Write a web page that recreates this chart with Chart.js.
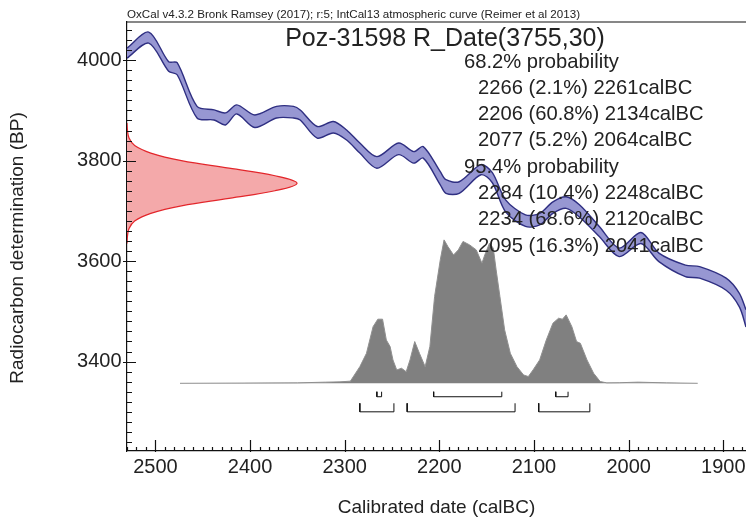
<!DOCTYPE html>
<html lang="en">
<head>
    <meta charset="UTF-8">
    <style>
        body {
            margin: 0;
            background: #ffffff;
        }
        #grafico {
            display: block;
        }
    </style>
    <script src="https://cdn.jsdelivr.net/npm/chart.js"></script>
    <title>Poz-31598 R_Date(3755,30)</title>
</head>
<body>
    <canvas id="grafico" width="746" height="520"></canvas>

    <script>
        // calibration curve (IntCal13): cal BC, upper / lower edge in BP
        const calYears = [2530, 2507, 2486, 2477, 2456, 2438, 2426, 2414, 2395, 2372, 2354, 2347, 2329, 2312,
            2298, 2284, 2266, 2243, 2227, 2217, 2199, 2193, 2179, 2156, 2144, 2130, 2109, 2094, 2080, 2066,
            2052, 2031, 2010, 1987, 1968, 1940, 1925, 1897, 1883, 1876];
        const curveHigh = [4024, 4056, 3997, 3995, 3908, 3901, 3895, 3911, 3891, 3908, 3908, 3901, 3868, 3878,
            3861, 3835, 3808, 3835, 3818, 3828, 3778, 3762, 3758, 3792, 3776, 3722, 3692, 3695, 3718, 3728,
            3712, 3669, 3626, 3657, 3616, 3592, 3589, 3566, 3536, 3503];
        const curveLow = [4004, 4034, 3978, 3971, 3885, 3881, 3871, 3893, 3866, 3885, 3885, 3881, 3845, 3855,
            3841, 3815, 3785, 3812, 3795, 3805, 3752, 3735, 3735, 3772, 3756, 3698, 3669, 3672, 3695, 3705,
            3688, 3649, 3609, 3635, 3599, 3569, 3566, 3542, 3509, 3469];

        // radiocarbon measurement on the y axis (relative density)
        const bpValues = [3635, 3650, 3665, 3680, 3695, 3710, 3725, 3740, 3755, 3770, 3785, 3800, 3815, 3830, 3845, 3860, 3875];
        const bpDensity = [0, 0.003, 0.012, 0.045, 0.14, 0.32, 0.6, 0.87, 1.0, 0.87, 0.6, 0.32, 0.14, 0.045, 0.012, 0.003, 0];

        // calibrated distribution (relative probability)
        const probYears = [2474, 2350, 2320, 2305, 2294, 2284, 2277, 2270, 2265, 2260, 2256, 2252, 2249, 2245, 2240,
            2235, 2231, 2226, 2221, 2215, 2210, 2205, 2199, 2195, 2191, 2185, 2180, 2175, 2168, 2161,
            2155, 2152, 2147, 2143, 2140, 2136, 2131, 2125, 2118, 2111, 2106, 2101, 2094, 2087, 2080,
            2074, 2070, 2066, 2060, 2055, 2051, 2044, 2037, 2030, 2023, 2010, 1990, 1960, 1927];
        const probValues = [0, 0.003, 0.008, 0.01, 0.015, 0.116, 0.209, 0.395, 0.447, 0.447, 0.302, 0.256, 0.163, 0.093, 0.105,
            0.081, 0.163, 0.291, 0.209, 0.116, 0.256, 0.605, 0.861, 1.0, 0.954, 0.895, 0.93, 0.989, 0.965, 0.93,
            0.837, 0.895, 0.977, 0.942, 0.791, 0.605, 0.372, 0.209, 0.116, 0.058, 0.047, 0.093, 0.163, 0.302, 0.419,
            0.454, 0.447, 0.477, 0.395, 0.291, 0.279, 0.163, 0.07, 0.012, 0.003, 0.004, 0.008, 0.003, 0];

        // probability ranges
        const range68 = [[2266, 2261], [2206, 2134], [2077, 2064]];
        const pct68 = ["2.1", "60.8", "5.2"];
        const range95 = [[2284, 2248], [2234, 2120], [2095, 2041]];
        const pct95 = ["10.4", "68.6", "16.3"];

        const xTicks = [2500, 2400, 2300, 2200, 2100, 2000, 1900];
        const yTicks = [3400, 3600, 3800, 4000];

        const headerText = "OxCal v4.3.2 Bronk Ramsey (2017); r:5; IntCal13 atmospheric curve (Reimer et al 2013)";
        const titleText = "Poz-31598 R_Date(3755,30)";
        const xTitle = "Calibrated date (calBC)";
        const yTitle = "Radiocarbon determination (BP)";

        const FONT = "'Liberation Sans', Arial, sans-serif";

        function colchetes(ranges, base, top) {
            const pts = [];
            for (const [a, b] of ranges) {
                pts.push({x: a, y: top}, {x: a, y: base}, {x: b, y: base}, {x: b, y: top}, {x: b, y: null});
            }
            return pts;
        }

        const overlay = {
            id: 'overlay',
            afterDraw(chart) {
                const {ctx, chartArea: a, scales: {x, y}} = chart;
                ctx.save();
                ctx.strokeStyle = '#111';
                ctx.lineWidth = 1.2;
                ctx.beginPath();
                ctx.moveTo(a.left, a.top);
                ctx.lineTo(a.right, a.top);
                // y ticks
                for (let v = 3240; v <= 4060; v += 20) {
                    const py = Math.round(y.getPixelForValue(v)) + 0.5;
                    const major = v % 200 === 0;
                    ctx.moveTo(a.left - (major ? 4 : 0), py);
                    ctx.lineTo(a.left + (major ? 9 : 5), py);
                }
                // x ticks
                for (let v = 1880; v <= 2530; v += 10) {
                    const px = Math.round(x.getPixelForValue(v)) + 0.5;
                    const major = v % 100 === 0;
                    ctx.moveTo(px, a.bottom + (major ? 1 : 0));
                    ctx.lineTo(px, a.bottom - (major ? 11 : 4));
                }
                ctx.stroke();

                ctx.fillStyle = '#222';
                ctx.textBaseline = 'alphabetic';
                ctx.textAlign = 'left';
                ctx.font = '11.6px ' + FONT;
                ctx.fillText(headerText, a.left, 18);

                ctx.textAlign = 'center';
                ctx.font = '25px ' + FONT;
                ctx.fillText(titleText, 445, 46);

                ctx.textAlign = 'left';
                ctx.font = '20.2px ' + FONT;
                let linha = 67.5;
                const passo = 26.3;
                ctx.fillText("68.2% probability", 464, linha);
                range68.forEach((r, i) => {
                    linha += passo;
                    ctx.fillText(`${r[0]} (${pct68[i]}%) ${r[1]}calBC`, 478, linha);
                });
                linha += passo;
                ctx.fillText("95.4% probability", 464, linha);
                range95.forEach((r, i) => {
                    linha += passo;
                    ctx.fillText(`${r[0]} (${pct95[i]}%) ${r[1]}calBC`, 478, linha);
                });

                ctx.font = '19px ' + FONT;
                ctx.textAlign = 'center';
                ctx.textBaseline = 'middle';
                ctx.fillText(xTitle, (a.left + a.right) / 2, 508);
                ctx.translate(18, 248);
                ctx.rotate(-Math.PI / 2);
                ctx.fillText(yTitle, 0, 0);
                ctx.restore();
            }
        };

        new Chart(document.getElementById("grafico"), {
            type: "line",
            data: {
                datasets: [
                    {
                        label: "curveHigh",
                        data: calYears.map((c, i) => ({x: c, y: curveHigh[i]})),
                        borderColor: "#2f2f82",
                        borderWidth: 1.4,
                        tension: 0.3,
                        pointRadius: 0,
                        fill: false
                    },
                    {
                        label: "curveLow",
                        data: calYears.map((c, i) => ({x: c, y: curveLow[i]})),
                        borderColor: "#2f2f82",
                        borderWidth: 1.4,
                        backgroundColor: "#9797d2",
                        tension: 0.3,
                        pointRadius: 0,
                        fill: "-1"
                    },
                    {
                        label: "R_Date",
                        indexAxis: "y",
                        xAxisID: "xDens",
                        data: bpValues.map((b, i) => ({x: bpDensity[i], y: b})),
                        borderColor: "#e3262b",
                        borderWidth: 1.2,
                        backgroundColor: "#f4a9aa",
                        tension: 0.4,
                        pointRadius: 0,
                        fill: {value: 0}
                    },
                    {
                        label: "calibrated",
                        yAxisID: "yProb",
                        data: probYears.map((c, i) => ({x: c, y: probValues[i]})),
                        borderColor: "#8f8f8f",
                        borderWidth: 1,
                        backgroundColor: "#808080",
                        tension: 0,
                        pointRadius: 0,
                        fill: "origin"
                    },
                    {
                        label: "68.2%",
                        data: colchetes(range68, 3330, 3340),
                        borderColor: "#111",
                        borderWidth: 1,
                        tension: 0,
                        pointRadius: 0,
                        spanGaps: false,
                        fill: false
                    },
                    {
                        label: "95.4%",
                        data: colchetes(range95, 3300, 3317),
                        borderColor: "#111",
                        borderWidth: 1,
                        tension: 0,
                        pointRadius: 0,
                        spanGaps: false,
                        fill: false
                    }
                ]
            },
            options: {
                responsive: false,
                animation: false,
                layout: {padding: {top: 22, left: 0, right: 0, bottom: 0}},
                plugins: {
                    legend: {display: false},
                    tooltip: {enabled: false},
                    title: {display: false}
                },
                scales: {
                    x: {
                        type: "linear",
                        min: 1876,
                        max: 2530,
                        reverse: true,
                        afterFit: (s) => { s.height = 69; s.paddingLeft = 0; s.paddingRight = 0; },
                        afterBuildTicks: (s) => { s.ticks = xTicks.map(v => ({value: v})); },
                        ticks: {
                            font: {size: 20, family: FONT},
                            color: "#222",
                            padding: 4,
                            maxRotation: 0,
                            callback: (v) => String(v)
                        },
                        grid: {drawOnChartArea: false, drawTicks: false},
                        border: {display: true, color: "#111", width: 1.2}
                    },
                    y: {
                        type: "linear",
                        min: 3222,
                        max: 4076,
                        afterFit: (s) => { s.width = 127; s.paddingTop = 0; s.paddingBottom = 0; },
                        afterBuildTicks: (s) => { s.ticks = yTicks.map(v => ({value: v})); },
                        ticks: {
                            font: {size: 20, family: FONT},
                            color: "#222",
                            padding: 5.5,
                            callback: (v) => String(v)
                        },
                        grid: {drawOnChartArea: false, drawTicks: false},
                        border: {display: true, color: "#111", width: 1.2}
                    },
                    yProb: {
                        type: "linear",
                        display: false,
                        min: -0.472,
                        max: 2.519
                    },
                    xDens: {
                        type: "linear",
                        position: "bottom",
                        display: false,
                        min: 0,
                        max: 3.64
                    }
                }
            },
            plugins: [overlay]
        });
    </script>
</body>
</html>
